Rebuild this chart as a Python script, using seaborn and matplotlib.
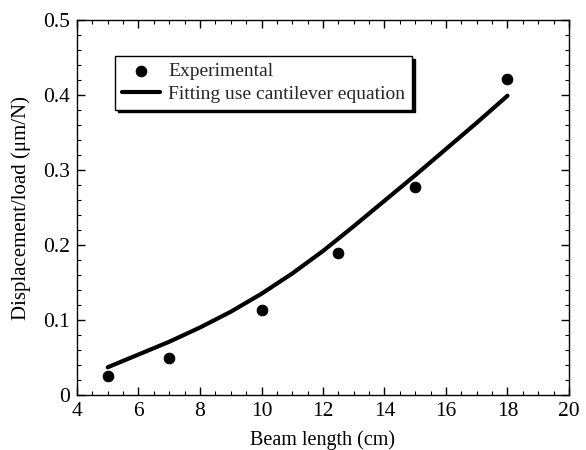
import matplotlib
matplotlib.use("Agg")
import matplotlib.pyplot as plt
import seaborn as sns
import pandas as pd
from matplotlib.ticker import MultipleLocator

# Data
exp_length = [5, 7, 10, 12.5, 15, 18]
exp_disp = [0.025, 0.049, 0.113, 0.190, 0.277, 0.421]

fit_length = [5, 6, 7, 8, 9, 10, 11, 12, 13, 14, 15, 16, 17, 18]
fit_disp = [0.037, 0.054, 0.071, 0.090, 0.111, 0.135, 0.162, 0.192, 0.225, 0.259, 0.293, 0.328, 0.363, 0.399]

sns.set_theme(style="white")
plt.rcParams['font.family'] = ['Liberation Serif', 'DejaVu Serif']

fig = plt.figure(figsize=(5.86, 4.5), dpi=100)
ax = fig.add_axes([77/586, 1 - 395/450, (569-77)/586, (395-20)/450])

df_exp = pd.DataFrame({"x": exp_length, "y": exp_disp})
df_fit = pd.DataFrame({"x": fit_length, "y": fit_disp})

sns.lineplot(data=df_fit, x="x", y="y", ax=ax, color="black", linewidth=3,
             label="Fitting use cantilever equation", zorder=2)
sns.scatterplot(data=df_exp, x="x", y="y", ax=ax, color="black", s=60,
                edgecolor="black", label="Experimental", zorder=3)

ax.set_xlim(4, 20)
ax.set_ylim(0, 0.5)
ax.xaxis.set_major_locator(MultipleLocator(2))
ax.xaxis.set_minor_locator(MultipleLocator(0.5))
ax.yaxis.set_minor_locator(MultipleLocator(0.02))
ax.set_yticks([0, 0.1, 0.2, 0.3, 0.4, 0.5])
ax.set_yticklabels(["0", "0.1", "0.2", "0.3", "0.4", "0.5"])
ax.tick_params(which="both", direction="in", top=True, right=True, bottom=True, left=True,
               labelsize=15.5, colors="black")
ax.tick_params(which="major", length=6, width=1, pad=5)
ax.tick_params(which="minor", length=3, width=0.8)
for s in ax.spines.values():
    s.set_color("black")
    s.set_linewidth(1)

ax.set_xlabel("Beam length (cm)", fontsize=14.5, color="black", labelpad=7)
ax.set_ylabel("Displacement/load (μm/N)", fontsize=15, color="black", labelpad=9)

handles, labels = ax.get_legend_handles_labels()
order = [labels.index("Experimental"), labels.index("Fitting use cantilever equation")]
leg = ax.legend([handles[i] for i in order], [labels[i] for i in order],
                loc="upper left", bbox_to_anchor=(0.077, 0.904), borderaxespad=0,
                frameon=True, fancybox=False, shadow={'color': 'black', 'alpha': 1},
                edgecolor="black", fontsize=14, handlelength=1.95, borderpad=0.35,
                labelspacing=0.25, handletextpad=0.45, framealpha=1)
leg.get_frame().set_linewidth(1)

fig.savefig("out.png", dpi=100)
